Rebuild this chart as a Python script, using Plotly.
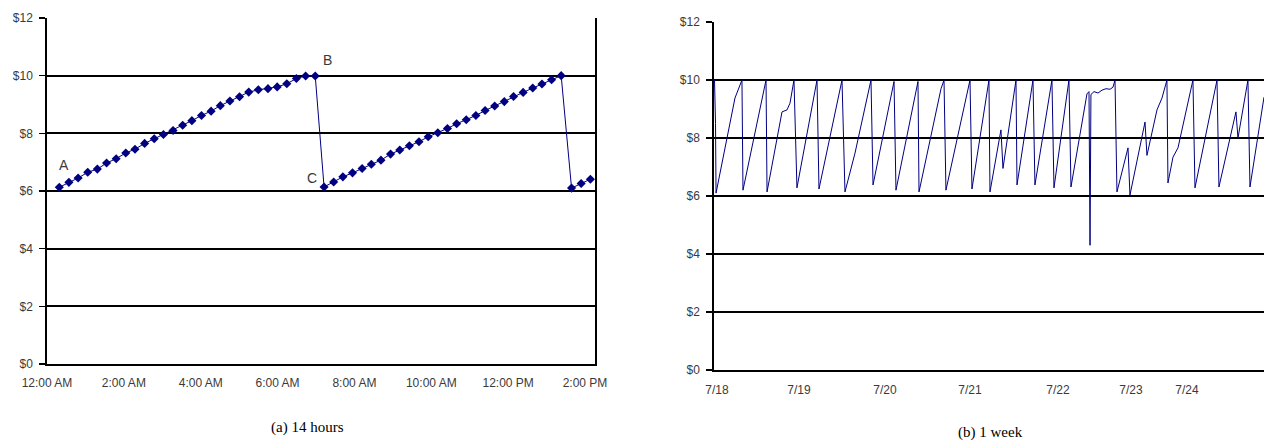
import plotly.graph_objects as go

# ---------------- (a) 14 hours ----------------
# hours after midnight for each sample
hours_seg1 = [0.32, 0.57, 0.81, 1.06, 1.31, 1.55, 1.80, 2.05, 2.29, 2.54, 2.79, 3.03, 3.28, 3.53,
              3.77, 4.02, 4.27, 4.51, 4.76, 5.01, 5.25, 5.50, 5.75, 5.99, 6.24, 6.49, 6.73, 6.98]
price_seg1 = [6.13, 6.30, 6.45, 6.65, 6.76, 6.97, 7.12, 7.32, 7.45, 7.65, 7.81, 7.96, 8.10, 8.28,
              8.44, 8.62, 8.77, 8.96, 9.12, 9.27, 9.43, 9.51, 9.55, 9.61, 9.72, 9.90, 9.99, 9.99]
hours_seg2 = [7.21, 7.46, 7.70, 7.95, 8.20, 8.44, 8.69, 8.94, 9.18, 9.43, 9.68, 9.92, 10.17,
              10.42, 10.66, 10.91, 11.16, 11.40, 11.65, 11.90, 12.14, 12.39, 12.64, 12.88, 13.13, 13.38]
price_seg2 = [6.14, 6.31, 6.49, 6.63, 6.78, 6.93, 7.07, 7.28, 7.42, 7.57, 7.71, 7.88, 8.02,
              8.17, 8.33, 8.47, 8.62, 8.79, 8.95, 9.10, 9.28, 9.42, 9.57, 9.71, 9.86, 10.00]
hours_seg3 = [13.65, 13.90, 14.14]
price_seg3 = [6.10, 6.26, 6.41]

hours_x = hours_seg1 + hours_seg2 + hours_seg3
hours_y = price_seg1 + price_seg2 + price_seg3

hour_tickvals = [0, 2, 4, 6, 8, 10, 12, 14]
hour_ticktext = ["12:00 AM", "2:00 AM", "4:00 AM", "6:00 AM", "8:00 AM", "10:00 AM", "12:00 PM", "2:00 PM"]

point_labels = ["A", "B", "C"]
point_label_x = [0.44, 7.31, 6.90]
point_label_y = [6.90, 10.54, 6.45]

# ---------------- (b) 1 week ----------------
# position in days along the (category) axis, and price
week_x = [0.006, 0.018, 0.024, 0.247, 0.329, 0.341, 0.612, 0.624, 0.800, 0.859, 0.894, 0.941,
          0.976, 1.212, 1.235, 1.353, 1.506, 1.541, 1.659, 1.847, 1.871, 2.118, 2.141, 2.400,
          2.412, 2.671, 2.706, 2.729, 3.012, 3.035, 3.235, 3.247, 3.376, 3.400, 3.553, 3.565,
          3.753, 3.776, 3.976, 4.000, 4.176, 4.200, 4.388, 4.412, 4.424, 4.435, 4.471, 4.518,
          4.565, 4.612, 4.659, 4.694, 4.718, 4.741, 4.871, 4.894, 5.071, 5.094, 5.212, 5.271,
          5.329, 5.341, 5.400, 5.459, 5.635, 5.659, 5.918, 5.941, 6.141, 6.165, 6.282, 6.306, 6.471]
week_y = [10.0, 8.5, 6.1, 9.38, 10.0, 6.2, 10.0, 6.14, 8.9, 8.97, 9.2, 10.0,
          6.28, 10.0, 6.24, 7.86, 10.0, 6.14, 7.48, 10.0, 6.38, 9.95, 6.2, 9.95,
          6.14, 9.7, 10.0, 6.2, 10.0, 6.24, 10.0, 6.14, 8.28, 6.95, 10.0, 6.38,
          10.0, 6.38, 10.0, 6.28, 10.0, 6.31, 9.52, 9.6, 4.3, 9.5, 9.6, 9.55,
          9.65, 9.7, 9.68, 9.75, 10.0, 6.14, 7.66, 6.03, 8.55, 7.4, 8.97, 9.38,
          10.0, 6.45, 7.34, 7.66, 10.0, 6.28, 10.0, 6.31, 8.9, 8.0, 10.0, 6.31, 9.41]

week_tickvals = [0.035, 1.0, 2.012, 3.012, 4.047, 4.906, 5.565]
week_ticktext = ["7/18", "7/19", "7/20", "7/21", "7/22", "7/23", "7/24"]

price_tickvals = [0, 2, 4, 6, 8, 10, 12]
price_ticktext = ["$0", "$2", "$4", "$6", "$8", "$10", "$12"]

captions = ["(a) 14 hours", "(b) 1 week"]

W, H = 1264, 441
NAVY = "#000080"
TXT = "#3a3a3a"
tickfont = dict(family="Liberation Sans, Arial, sans-serif", size=12, color=TXT)

fig = go.Figure()
fig.add_trace(go.Scatter(x=hours_x, y=hours_y, mode="lines+markers",
                         line=dict(color=NAVY, width=1),
                         marker=dict(symbol="diamond", size=7, color=NAVY),
                         xaxis="x", yaxis="y", showlegend=False, hoverinfo="skip"))
fig.add_trace(go.Scatter(x=week_x, y=week_y, mode="lines",
                         line=dict(color=NAVY, width=1),
                         xaxis="x2", yaxis="y2", showlegend=False, hoverinfo="skip"))

def px_x(a, b):
    return [a / W, b / W]

def px_y(top, bottom):
    return [1 - bottom / H, 1 - top / H]

yaxis_common = dict(range=[0, 12], tickvals=price_tickvals, ticktext=price_ticktext,
                    showgrid=True, gridcolor="black", gridwidth=1.7, zeroline=False,
                    showline=True, linecolor="black", linewidth=1.7,
                    ticks="outside", ticklen=6, tickcolor="black", tickwidth=1.3,
                    ticklabelstandoff=4,
                    tickfont=tickfont, fixedrange=True, automargin=False)

fig.update_layout(
    template="none",
    width=W, height=H,
    margin=dict(l=0, r=0, t=0, b=0, autoexpand=False),
    paper_bgcolor="white", plot_bgcolor="white",
    xaxis=dict(domain=px_x(47, 595), range=[0, 14.26], anchor="y",
               tickvals=hour_tickvals, ticktext=hour_ticktext,
               showgrid=False, zeroline=False, showline=True, linecolor="black",
               linewidth=2, mirror=False, ticks="", tickfont=tickfont,
               ticklabelstandoff=7, automargin=False, fixedrange=True),
    yaxis=dict(domain=px_y(18, 364), anchor="x", mirror=True, **yaxis_common),
    xaxis2=dict(domain=px_x(714, 1264), range=[0, 6.471], anchor="y2",
                tickvals=week_tickvals, ticktext=week_ticktext,
                showgrid=False, zeroline=False, showline=True, linecolor="black",
                linewidth=2.2, ticks="", tickfont=tickfont, ticklabelstandoff=7,
                automargin=False, fixedrange=True),
    yaxis2=dict(domain=px_y(22, 370), anchor="x2", mirror=False, **yaxis_common),
)

for lab, lx, ly in zip(point_labels, point_label_x, point_label_y):
    fig.add_annotation(x=lx, y=ly, xref="x", yref="y", text=lab, showarrow=False,
                       font=dict(family="Liberation Sans, Arial, sans-serif", size=14, color=TXT))

fig.add_annotation(x=307 / W, y=1 - 427 / H, xref="paper", yref="paper", text=captions[0],
                   xanchor="center", yanchor="middle", showarrow=False,
                   font=dict(family="Liberation Serif, serif", size=15, color="black"))
fig.add_annotation(x=990 / W, y=1 - 432 / H, xref="paper", yref="paper", text=captions[1],
                   xanchor="center", yanchor="middle", showarrow=False,
                   font=dict(family="Liberation Serif, serif", size=15, color="black"))

fig.write_html("out.html", config={"displayModeBar": False, "staticPlot": True},
               post_script="document.body.style.margin='0';document.body.style.overflow='hidden';")
